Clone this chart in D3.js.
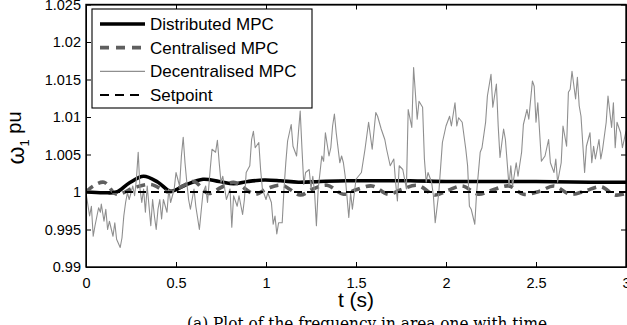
<!DOCTYPE html>
<html>
<head>
<meta charset="utf-8">
<script src="https://cdn.jsdelivr.net/npm/d3@7"></script>
<style>
  html, body { margin: 0; padding: 0; background: #fff; }
  svg { display: block; }
  svg text { font-family: "Liberation Sans", Arial, Helvetica, sans-serif; }
  svg text.caption { font-family: "DejaVu Serif", "Liberation Serif", serif; }
</style>
</head>
<body>
<svg id="chart" width="627" height="325"></svg>
<script>
// ---- data ----
const xTicks = [0, 0.5, 1, 1.5, 2, 2.5, 3];
const yTicks = [0.99, 0.995, 1, 1.005, 1.01, 1.015, 1.02, 1.025];

const seriesNames = ["Distributed MPC", "Centralised MPC", "Decentralised MPC", "Setpoint"];

const distributedT = [0, 0.1, 0.17, 0.24, 0.32, 0.4, 0.47, 0.55, 0.65, 0.74, 0.82, 0.9, 0.99, 1.08, 1.18, 1.3, 1.45, 1.6, 1.8, 2.0, 2.2, 2.5, 2.8, 3.0];
const distributedV = [1.0, 0.9999, 1.0, 1.0012, 1.0021, 1.0013, 1.0001, 1.0009, 1.0017, 1.0014, 1.0011, 1.0014, 1.0016, 1.0015, 1.0013, 1.0014, 1.0015, 1.0015, 1.0015, 1.0014, 1.0014, 1.0014, 1.0013, 1.0013];

const centralisedT = [0, 0.04, 0.1, 0.17, 0.27, 0.36, 0.46, 0.53, 0.6, 0.68, 0.75, 0.82, 0.94, 1.01, 1.09, 1.19, 1.26, 1.34, 1.43, 1.5, 1.59, 1.68, 1.75, 1.84, 1.94, 2.01, 2.09, 2.18, 2.25, 2.35, 2.43, 2.52, 2.6, 2.69, 2.77, 2.86, 2.94, 3.0];
const centralisedV = [1.0, 1.0008, 1.0013, 0.9997, 1.0006, 1.001, 1.0, 1.0007, 1.0014, 0.9998, 1.0006, 1.0013, 0.9997, 1.0005, 1.0009, 0.9996, 1.0004, 1.0009, 0.9997, 1.0003, 1.0008, 0.9997, 1.0003, 1.0009, 0.9996, 1.0002, 1.0008, 0.9997, 1.0002, 1.0008, 0.9997, 1.0001, 1.0008, 0.9997, 1.0001, 1.0007, 0.9996, 0.9998];

const decentralisedT = [
  0, 0.02, 0.03, 0.04, 0.05, 0.07, 0.08, 0.085, 0.1, 0.11, 0.12, 0.13, 0.15, 0.16, 0.17, 0.19, 0.2, 0.21, 0.22, 0.23,
  0.24, 0.26, 0.27, 0.28, 0.29, 0.3, 0.31, 0.32, 0.33, 0.34, 0.36, 0.37, 0.38, 0.39, 0.4, 0.41, 0.42, 0.43, 0.45, 0.46,
  0.47, 0.49, 0.5, 0.52, 0.53, 0.54, 0.55, 0.56, 0.57, 0.58, 0.6, 0.61, 0.63, 0.64, 0.65, 0.665, 0.675, 0.69, 0.7, 0.72,
  0.73, 0.74, 0.75, 0.76, 0.78, 0.8, 0.81, 0.82, 0.84, 0.85, 0.87, 0.88, 0.89, 0.91, 0.92, 0.93, 0.94, 0.96, 0.97, 0.98,
  1.0, 1.01, 1.03, 1.04, 1.05, 1.06, 1.07, 1.09, 1.1, 1.11, 1.12, 1.14, 1.15, 1.17, 1.18, 1.19, 1.2, 1.21, 1.22, 1.24,
  1.25, 1.26, 1.27, 1.28, 1.29, 1.31, 1.32, 1.33, 1.35, 1.36, 1.37, 1.38, 1.39, 1.41, 1.42, 1.43, 1.44, 1.46, 1.47, 1.48,
  1.5, 1.53, 1.55, 1.57, 1.59, 1.61, 1.62, 1.64, 1.66, 1.67, 1.69, 1.71, 1.72, 1.73, 1.74, 1.76, 1.78, 1.79, 1.81, 1.82,
  1.84, 1.85, 1.87, 1.88, 1.89, 1.9, 1.92, 1.93, 1.94, 1.96, 1.98, 2.0, 2.02, 2.03, 2.05, 2.06, 2.07, 2.09, 2.11, 2.12,
  2.13, 2.14, 2.16, 2.17, 2.19, 2.2, 2.22, 2.23, 2.25, 2.26, 2.28, 2.29, 2.3, 2.32, 2.33, 2.35, 2.36, 2.37, 2.39, 2.4,
  2.42, 2.43, 2.45, 2.46, 2.48, 2.49, 2.5, 2.51, 2.53, 2.55, 2.57, 2.58, 2.6, 2.61, 2.62, 2.64, 2.65, 2.67, 2.68, 2.69,
  2.7, 2.72, 2.73, 2.74, 2.75, 2.77, 2.78, 2.8, 2.81, 2.82, 2.83, 2.85, 2.86, 2.87, 2.89, 2.9, 2.92, 2.93, 2.94, 2.95,
  2.97, 2.98, 3.0
];
const decentralisedV = [
  0.9999, 0.9968, 0.9981, 0.9941, 0.9955, 0.9979, 0.9973, 0.9984, 0.9961, 0.9977, 0.995, 0.9961, 0.9941, 0.9959, 0.9937, 0.9926, 0.9939, 0.9968, 0.9986, 0.9999,
  0.999, 1.0008, 0.9995, 1.0017, 1.0053, 1.0004, 0.9986, 1.0004, 0.9973, 1.0008, 0.9955, 0.999, 0.9968, 0.995, 0.9977, 0.999, 0.9964, 0.999, 0.9973, 1.0004,
  0.9986, 1.0004, 1.0026, 1.0008, 1.0048, 1.0073, 1.0039, 1.0013, 0.999, 0.9977, 1.0004, 0.9981, 0.995, 0.9975, 0.9999, 1.0008, 0.9986, 1.003, 1.0057, 1.0053,
  1.0069, 1.0039, 1.0013, 1.0021, 0.999, 1.0004, 0.9953, 0.9995, 0.9981, 0.9995, 0.997, 0.999, 1.0026, 1.0035, 1.007, 1.0081, 1.0059, 1.0066, 1.003, 1.0004,
  0.999, 0.9999, 0.9986, 0.9957, 0.9968, 0.9944, 0.9959, 0.9959, 1.0004, 1.0039, 1.0068, 1.009, 1.0061, 1.0048, 1.0079, 1.0108, 1.0057, 1.001, 1.0026, 1.003,
  1.0004, 1.0021, 0.9999, 0.9955, 1.0004, 1.0048, 1.0041, 1.0079, 1.0048, 1.0059, 1.0088, 1.0104, 1.0079, 1.0039, 1.0048, 1.0039, 1.0021, 0.9966, 0.9999, 0.9977,
  1.0017, 1.0026, 1.0057, 1.0093, 1.0057, 1.0106, 1.0101, 1.0084, 1.007, 1.0057, 1.0035, 1.0044, 1.0013, 0.9988, 1.0035, 1.003, 1.0004, 1.011, 1.0086, 1.0166,
  1.0097, 1.0121, 1.0113, 1.0044, 1.0013, 1.0026, 1.0013, 0.9995, 0.9959, 0.9999, 1.0066, 1.0088, 1.0101, 1.0088, 1.0119, 1.0088, 1.0099, 1.0093, 1.0057, 1.0035,
  0.9981, 0.9977, 0.9957, 0.9999, 1.0053, 1.0059, 1.0093, 1.0128, 1.0157, 1.0113, 1.0144, 1.0088, 1.0046, 1.0084, 1.007, 1.0008, 1.0035, 1.0008, 1.0039, 1.0021,
  1.0053, 1.009, 1.011, 1.0097, 1.0148, 1.0141, 1.0093, 1.0119, 1.0041, 1.0048, 1.007, 1.0039, 1.0026, 1.0044, 1.0013, 1.0039, 1.0088, 1.0061, 1.0133, 1.0137,
  1.0161, 1.0124, 1.0153, 1.0115, 1.0101, 1.0026, 1.0061, 1.0079, 1.0039, 1.0061, 1.0044, 1.007, 1.0044, 1.0057, 1.0093, 1.0128, 1.0086, 1.0119, 1.0059, 1.0093,
  1.0079, 1.0059, 1.0081
];

const setpointT = [0, 3];
const setpointV = [1, 1];

// ---- layout ----
const svg = d3.select("#chart");
const plot = { left: 86, right: 626, top: 4.5, bottom: 267 };

const x = d3.scaleLinear().domain([0, 3]).range([plot.left, plot.right]);
const y = d3.scaleLinear().domain([0.99, 1.025]).range([plot.bottom, plot.top]);

const zip = (ts, vs) => ts.map((t, i) => ({ t, v: vs[i] }));

svg.append("clipPath").attr("id", "plot-clip")
  .append("rect")
  .attr("x", plot.left).attr("y", plot.top)
  .attr("width", plot.right - plot.left).attr("height", plot.bottom - plot.top);

const lines = svg.append("g").attr("clip-path", "url(#plot-clip)");

const smooth = d3.line().x(d => x(d.t)).y(d => y(d.v)).curve(d3.curveCatmullRom.alpha(0.5));
const straight = d3.line().x(d => x(d.t)).y(d => y(d.v));

const styles = [
  { stroke: "#000", width: 3.6, dash: null },
  { stroke: "#5f5f5f", width: 3.6, dash: "9,6" },
  { stroke: "#8f8f8f", width: 1.1, dash: null },
  { stroke: "#000", width: 2, dash: "8,5" }
];

lines.append("path")
  .datum(zip(distributedT, distributedV))
  .attr("fill", "none").attr("stroke", styles[0].stroke).attr("stroke-width", styles[0].width)
  .attr("d", smooth);

lines.append("path")
  .datum(zip(centralisedT, centralisedV))
  .attr("fill", "none").attr("stroke", styles[1].stroke).attr("stroke-width", styles[1].width)
  .attr("stroke-dasharray", styles[1].dash)
  .attr("d", smooth);

lines.append("path")
  .datum(zip(decentralisedT, decentralisedV))
  .attr("fill", "none").attr("stroke", styles[2].stroke).attr("stroke-width", styles[2].width)
  .attr("stroke-linejoin", "round")
  .attr("d", straight);

lines.append("path")
  .datum(zip(setpointT, setpointV))
  .attr("fill", "none").attr("stroke", styles[3].stroke).attr("stroke-width", styles[3].width)
  .attr("stroke-dasharray", styles[3].dash)
  .attr("d", straight);

// ---- axes (ticks pointing inward, MATLAB style) ----
const tickFmt = d => String(+d.toFixed(3));
const axisFont = "'Liberation Sans', Arial, Helvetica, sans-serif";

svg.append("g")
  .attr("transform", `translate(${plot.left},0)`)
  .call(d3.axisLeft(y).tickValues(yTicks).tickSizeInner(-5).tickSizeOuter(0).tickPadding(5).tickFormat(tickFmt))
  .attr("font-family", axisFont).attr("font-size", 14.5)
  .call(g => g.selectAll("text").attr("fill", "#000"))
  .call(g => g.selectAll("line, path").attr("stroke", "#000"));

svg.append("g")
  .attr("transform", `translate(0,${plot.bottom})`)
  .call(d3.axisBottom(x).tickValues(xTicks).tickSizeInner(-5).tickSizeOuter(0).tickPadding(11).tickFormat(tickFmt))
  .attr("font-family", axisFont).attr("font-size", 14.5)
  .call(g => g.selectAll("text").attr("fill", "#000"))
  .call(g => g.selectAll("line, path").attr("stroke", "#000"));

svg.append("g")
  .attr("transform", `translate(${plot.right},0)`)
  .call(d3.axisRight(y).tickValues(yTicks).tickSizeInner(-5).tickSizeOuter(0).tickFormat(""))
  .call(g => g.selectAll("line, path").attr("stroke", "#000"));

svg.append("g")
  .attr("transform", `translate(0,${plot.top})`)
  .call(d3.axisTop(x).tickValues(xTicks).tickSizeInner(-5).tickSizeOuter(0).tickFormat(""))
  .call(g => g.selectAll("line, path").attr("stroke", "#000"));

svg.append("rect")
  .attr("x", plot.left).attr("y", plot.top)
  .attr("width", plot.right - plot.left).attr("height", plot.bottom - plot.top)
  .attr("fill", "none").attr("stroke", "#000").attr("stroke-width", 1.4);

// ---- axis titles ----
svg.append("text")
  .attr("x", (plot.left + plot.right) / 2).attr("y", 307)
  .attr("text-anchor", "middle").attr("font-size", 21)
  .text("t (s)");

const yTitle = svg.append("text")
  .attr("transform", "translate(24,138) rotate(-90)")
  .attr("text-anchor", "middle").attr("font-size", 20);
yTitle.append("tspan").attr("font-size", 23).text("ω");
yTitle.append("tspan").attr("font-size", 13).attr("dy", "0.4em").text("1");
yTitle.append("tspan").attr("dy", "-0.4em").text(" pu");

// ---- legend ----
const legend = svg.append("g");
legend.append("rect")
  .attr("x", 92).attr("y", 9).attr("width", 220).attr("height", 99)
  .attr("fill", "#fff").attr("stroke", "#000").attr("stroke-width", 1.1);

const legendY = d3.scalePoint().domain(seriesNames).range([24, 95]);

seriesNames.forEach((name, i) => {
  const ly = legendY(name);
  legend.append("line")
    .attr("x1", 100).attr("x2", 145).attr("y1", ly).attr("y2", ly)
    .attr("stroke", styles[i].stroke).attr("stroke-width", styles[i].width)
    .attr("stroke-dasharray", i === 1 ? "9,7" : (i === 3 ? "9,6" : null));
  legend.append("text")
    .attr("x", 150).attr("y", ly).attr("dy", "0.36em")
    .attr("font-size", 17).text(name);
});

// ---- caption (cut off at the bottom edge) ----
svg.append("text")
  .attr("class", "caption")
  .attr("x", 187).attr("y", 329)
  .attr("font-size", 17)
  .attr("textLength", 360).attr("lengthAdjust", "spacingAndGlyphs")
  .text("(a) Plot of the frequency in area one with time");
</script>
</body>
</html>
